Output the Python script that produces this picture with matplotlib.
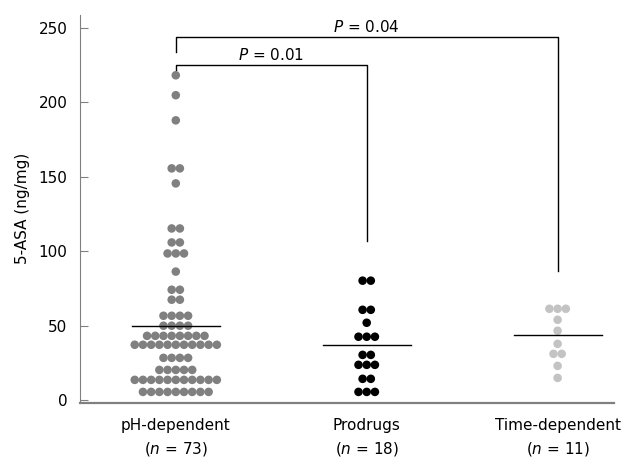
import numpy as np
import matplotlib
matplotlib.use("Agg")
import matplotlib.pyplot as plt

plt.rcParams["font.family"] = ["DejaVu Sans"]
plt.rcParams["mathtext.fontset"] = "dejavusans"

# 5-ASA values (ng/mg), read row by row (value, number of dots in that row)
ph_rows = [(218.3, 1), (204.9, 1), (188.0, 1), (155.7, 2), (145.6, 1), (115.3, 2),
           (105.9, 2), (98.5, 3), (86.3, 1), (74.1, 2), (67.4, 2), (56.6, 4),
           (49.9, 4), (43.1, 8), (37.1, 11), (28.3, 4), (20.2, 5), (13.5, 11),
           (5.4, 9)]
pro_rows = [(80.2, 2), (60.6, 2), (51.9, 1), (42.5, 3), (30.3, 2), (23.6, 3),
            (14.2, 2), (5.4, 3)]
time_rows = [(61.3, 3), (53.9, 1), (46.5, 1), (37.7, 1), (31.0, 2), (22.9, 1),
             (14.8, 1)]

groups = ["pH-dependent", "Prodrugs", "Time-dependent"]
n_labels = [73, 18, 11]
means = [49.9, 37.1, 43.8]
colors = ["#808080", "#000000", "#c3c3c3"]

p_texts = ["0.01", "0.04"]

fig = plt.figure(figsize=(6.28, 4.61), dpi=100)
ax = fig.add_axes([0.127, 0.126, 0.850, 0.842])

dx = 0.043  # horizontal spacing of dots in one row
for i, rows in enumerate([ph_rows, pro_rows, time_rows]):
    xs, ys = [], []
    for val, k in rows:
        for j in range(k):
            xs.append(i + (j - (k - 1) / 2) * dx)
            ys.append(val)
    ax.scatter(xs, ys, s=38, color=colors[i], edgecolors="none", zorder=3)
    ax.plot([i - 0.23, i + 0.23], [means[i], means[i]], color="black", lw=1, zorder=4)

# significance brackets
ax.plot([0, 0, 1, 1], [222, 225, 225, 107], color="black", lw=1)
ax.plot([0, 0, 2, 2], [234, 244, 244, 87], color="black", lw=1)
ax.text(0.5, 226.5, "$\\mathit{P}$ = " + p_texts[0], ha="center", va="bottom", fontsize=11)
ax.text(1.0, 245.5, "$\\mathit{P}$ = " + p_texts[1], ha="center", va="bottom", fontsize=11)

ax.set_xlim(-0.503, 2.293)
ax.set_ylim(-2, 259)
ax.set_yticks([0, 50, 100, 150, 200, 250])
ax.set_xticks([0, 1, 2])
ax.set_xticklabels([g + "\n($\\mathit{n}$ = %d)" % n for g, n in zip(groups, n_labels)],
                   fontsize=11, linespacing=1.5)
ax.tick_params(axis="x", length=0, pad=11)
ax.tick_params(axis="y", direction="in", length=6, color="#808080", labelsize=11, pad=9)
ax.set_ylabel("5-ASA (ng/mg)", fontsize=11, labelpad=6)

for s in ["top", "right"]:
    ax.spines[s].set_visible(False)
ax.spines["left"].set_color("#808080")
ax.spines["bottom"].set_color("#808080")
ax.spines["bottom"].set_linewidth(1.6)

fig.savefig("out.png", dpi=100)
